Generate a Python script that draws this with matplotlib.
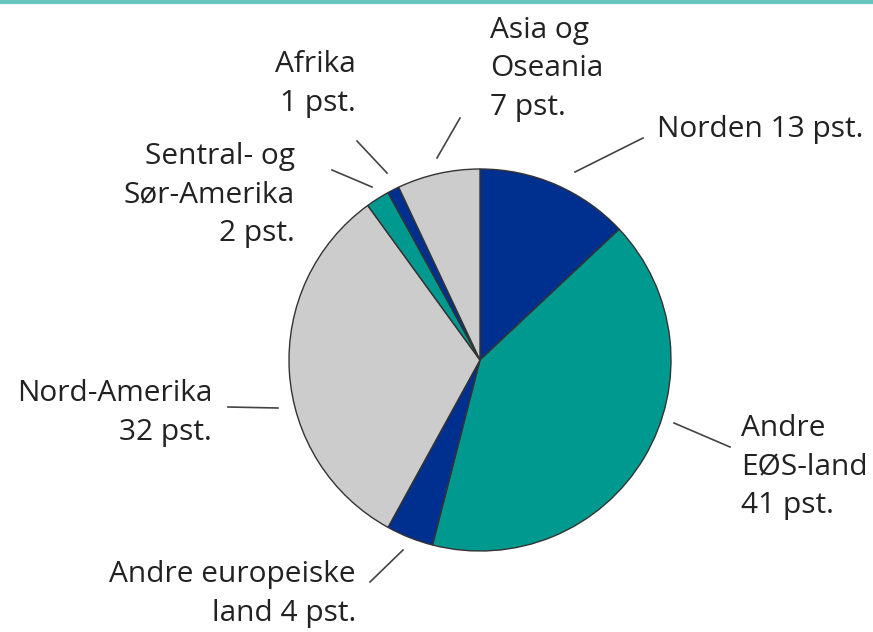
import matplotlib.pyplot as plt

# Andel per region, prosent
regions = ["Norden", "Andre EØS-land", "Andre europeiske land", "Nord-Amerika",
           "Sentral- og Sør-Amerika", "Afrika", "Asia og Oseania"]
shares = [13, 41, 4, 32, 2, 1, 7]
label_texts = ["Norden 13 pst.", "Andre\nEØS-land\n41 pst.", "Andre europeiske\nland 4 pst.",
               "Nord-Amerika\n32 pst.", "Sentral- og\nSør-Amerika\n2 pst.", "Afrika\n1 pst.",
               "Asia og\nOseania\n7 pst."]

navy = "#00308F"
teal = "#009990"
grey = "#CCCCCC"
colors = [navy, teal, navy, grey, teal, navy, grey]

W, H = 873, 632


def py(y):
    # pixel y (from top) -> data y
    return H - y


fig = plt.figure(figsize=(W / 100, H / 100), dpi=100)
ax = fig.add_axes([0, 0, 1, 1])

ax.pie(shares, colors=colors, startangle=90, counterclock=False,
       center=(480, py(360)), radius=191,
       wedgeprops=dict(edgecolor="#333333", linewidth=1.0))

# label placement: (x, y, ha) in pixels, leader line endpoints
label_pos = [(657, 130, "left"), (741, 467, "left"), (356, 594, "right"),
             (212, 413, "right"), (295, 195, "right"), (356, 84, "right"),
             (490, 69, "left")]
leaders = [((575, 172), (643, 138)), ((674, 423), (730, 447)),
           ((370, 582), (403, 550)), ((228, 407), (278, 408)),
           ((332, 170), (372, 187)), ((357, 141), (387, 173)),
           ((460, 118), (437, 158))]

for txt, (x, y, ha), (p0, p1) in zip(label_texts, label_pos, leaders):
    ax.text(x, py(y), txt, ha=ha, va="center", fontsize=21.5, family="Open Sans",
            color="#222222", linespacing=1.42, multialignment=ha)
    ax.plot([p0[0], p1[0]], [py(p0[1]), py(p1[1])], color="#444444", lw=1.2)

# teal top rule
ax.plot([0, W], [py(2), py(2)], color="#66C4C0", lw=3, solid_capstyle="butt")

ax.set_xlim(0, W)
ax.set_ylim(0, H)
ax.axis("off")

fig.savefig("out.png", dpi=100)
